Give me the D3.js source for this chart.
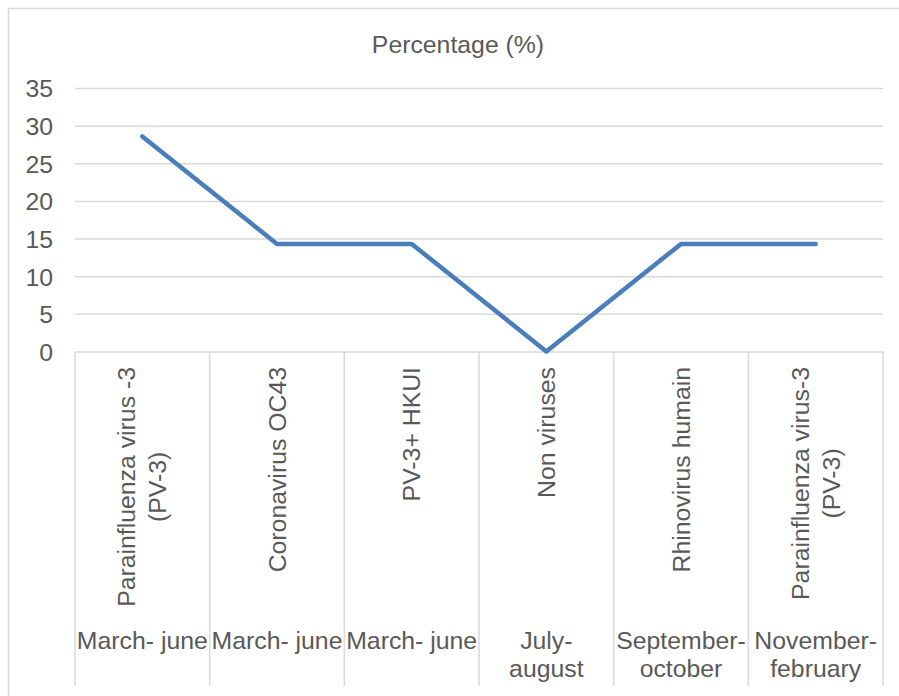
<!DOCTYPE html>
<html>
<head>
<meta charset="utf-8">
<script src="https://cdn.jsdelivr.net/npm/d3@7"></script>
<style>
  html, body { margin: 0; padding: 0; background: #fff; }
  svg { display: block; font-family: "Liberation Sans", Arial, sans-serif; }
</style>
</head>
<body>
<script>
// Virus detected per season (rotated inner category labels)
const viruses = [
  ["Parainfluenza virus -3", "(PV-3)"],
  ["Coronavirus OC43"],
  ["PV-3+ HKUI"],
  ["Non viruses"],
  ["Rhinovirus humain"],
  ["Parainfluenza virus-3", "(PV-3)"]
];
// Season (outer category labels)
const periods = [
  ["March- june"],
  ["March- june"],
  ["March- june"],
  ["July-", "august"],
  ["September-", "october"],
  ["November-", "february"]
];
// Share of cases, %
const percentages = [28.57, 14.29, 14.29, 0, 14.29, 14.29];
const yTicks = [0, 5, 10, 15, 20, 25, 30, 35];

const W = 899, H = 696;
const plot = { left: 75, right: 883, top: 88, bottom: 351.5 };
const textColor = "#595959";
const gridColor = "#d9d9d9";
const fontSize = 24.8;

const svg = d3.select("body").append("svg")
  .attr("width", W).attr("height", H);

// chart frame
svg.append("rect")
  .attr("x", 8.5).attr("y", 8.5)
  .attr("width", W + 10).attr("height", H + 10)
  .attr("fill", "#fff").attr("stroke", gridColor).attr("stroke-width", 1.5);

// title
svg.append("text")
  .attr("x", 458).attr("y", 53)
  .attr("text-anchor", "middle")
  .attr("fill", textColor).attr("font-size", fontSize)
  .text("Percentage (%)");

const x = d3.scaleBand()
  .domain(d3.range(percentages.length))
  .range([plot.left, plot.right])
  .paddingInner(0).paddingOuter(0);

const y = d3.scaleLinear()
  .domain([0, 35])
  .range([plot.bottom, plot.top]);

// value axis with gridlines
const yAxis = svg.append("g")
  .attr("transform", `translate(${plot.left},0)`)
  .call(d3.axisLeft(y).tickValues(yTicks).tickSize(-(plot.right - plot.left)).tickPadding(22).tickFormat(d3.format("d")));
yAxis.select(".domain").remove();
yAxis.selectAll(".tick line").attr("stroke", gridColor).attr("stroke-width", 1.5);
yAxis.selectAll(".tick text")
  .attr("fill", textColor)
  .attr("font-size", fontSize)
  .attr("font-family", "Liberation Sans, Arial, sans-serif")
  .attr("dy", "0.36em");

// category grid: vertical separators below the axis
const sepY2 = 686;
const bounds = d3.range(percentages.length + 1).map(i =>
  i < percentages.length ? x(i) : x(i - 1) + x.bandwidth());
svg.append("g").selectAll("line")
  .data(bounds)
  .join("line")
  .attr("x1", d => d).attr("x2", d => d)
  .attr("y1", plot.bottom).attr("y2", sepY2)
  .attr("stroke", gridColor).attr("stroke-width", 1.5);

// rotated virus labels: block hangs from the axis, lines centred on each other
const lineGap = 31;
const labelTop = 367;
const vGroup = svg.append("g");
viruses.forEach((lines, i) => {
  const cx = x(i) + x.bandwidth() / 2;
  const n = lines.length;
  const texts = lines.map((t, j) => {
    const baseX = cx + 8.5 + (j - (n - 1) / 2) * lineGap;
    return vGroup.append("text")
      .attr("transform", `translate(${baseX},${labelTop}) rotate(-90)`)
      .attr("text-anchor", "middle")
      .attr("fill", textColor).attr("font-size", fontSize)
      .text(t);
  });
  const maxLen = d3.max(texts, s => s.node().getComputedTextLength());
  texts.forEach(s => s.attr("x", -maxLen / 2));
});

// period labels
const pGroup = svg.append("g");
periods.forEach((lines, i) => {
  const cx = x(i) + x.bandwidth() / 2;
  lines.forEach((t, j) => {
    pGroup.append("text")
      .attr("x", cx).attr("y", 649 + j * 28)
      .attr("text-anchor", "middle")
      .attr("fill", textColor).attr("font-size", fontSize)
      .text(t);
  });
});

// series line
const line = d3.line()
  .x((d, i) => x(i) + x.bandwidth() / 2)
  .y(d => y(d));
svg.append("path")
  .datum(percentages)
  .attr("d", line)
  .attr("fill", "none")
  .attr("stroke", "#4a7ebb")
  .attr("stroke-width", 4.5)
  .attr("stroke-linejoin", "round")
  .attr("stroke-linecap", "round");
</script>
</body>
</html>
